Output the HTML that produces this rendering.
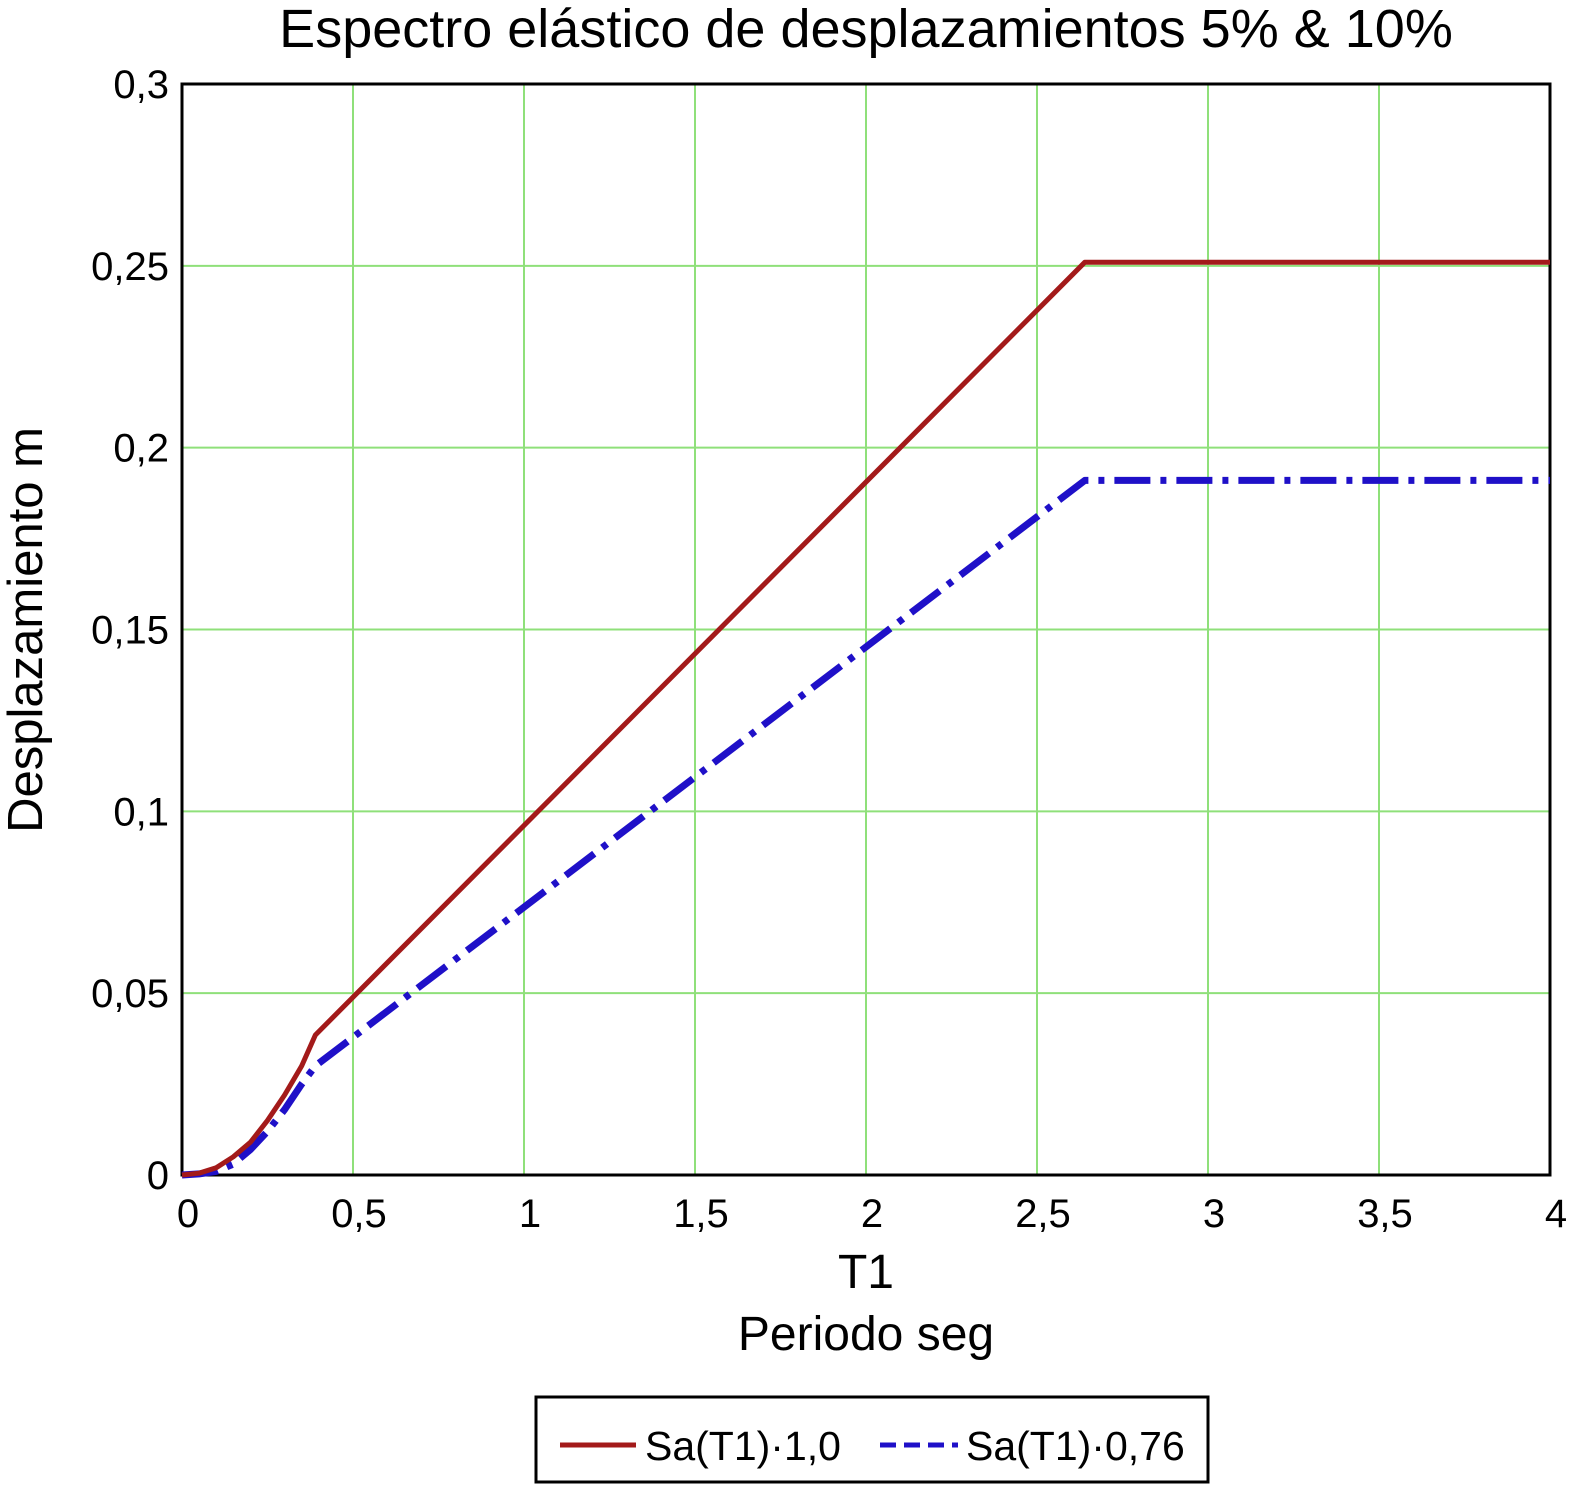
<!DOCTYPE html>
<html><head><meta charset="utf-8"><style>
body{margin:0;background:#fff;width:1587px;height:1503px;overflow:hidden}
svg text{font-family:"Liberation Sans",Arial,sans-serif;fill:#000}
</style></head><body>
<svg id="chart" width="1587" height="1503">
<text x="866" y="47" font-size="54" text-anchor="middle">Espectro elástico de desplazamientos 5% &amp; 10%</text>
<g id="grid"></g>
<g id="ticks"></g>
<rect x="182" y="84" width="1368" height="1091" fill="none" stroke="#000" stroke-width="3"/>
<g id="series"></g>
<text x="866" y="1288" font-size="48" text-anchor="middle">T1</text>
<text x="866" y="1350" font-size="48" text-anchor="middle">Periodo seg</text>
<text transform="translate(42,630) rotate(-90)" font-size="49" text-anchor="middle">Desplazamiento m</text>
<g>
<rect x="536" y="1397" width="672" height="85" fill="#fff" stroke="#000" stroke-width="3"/>
<line x1="560" y1="1445" x2="636" y2="1445" stroke="#a31a1a" stroke-width="5"/>
<text x="645" y="1460" font-size="41">Sa(T1)·1,0</text>
<line x1="880" y1="1445" x2="958" y2="1445" stroke="#1f10c8" stroke-width="5" stroke-dasharray="16,8"/>
<text x="966" y="1460" font-size="41">Sa(T1)·0,76</text>
</g>
</svg>
<script>
const xTicks=[0,0.5,1,1.5,2,2.5,3,3.5,4];
const xTickLabels=["0","0,5","1","1,5","2","2,5","3","3,5","4"];
const yTicks=[0,0.05,0.1,0.15,0.2,0.25,0.3];
const yTickLabels=["0","0,05","0,1","0,15","0,2","0,25","0,3"];
const periods=[0,0.05,0.1,0.15,0.2,0.25,0.3,0.35,0.39,2.64,4];
const sa10=[0,0.0005,0.002,0.005,0.009,0.015,0.022,0.030,0.0385,0.251,0.251];
const sa076=[0,0.0003,0.001,0.003,0.007,0.012,0.018,0.025,0.030,0.191,0.191];
const NS="http://www.w3.org/2000/svg";
const X=v=>182+v/4*1368, Y=v=>1175-v/0.3*1091;
const grid=document.getElementById('grid'),ticks=document.getElementById('ticks'),series=document.getElementById('series');
function mk(t,a,p){const e=document.createElementNS(NS,t);for(const k in a)e.setAttribute(k,a[k]);p.appendChild(e);return e;}
xTicks.forEach((v,i)=>{
 const l=mk('line',{x1:X(v),x2:X(v),y1:84,y2:1175,stroke:'#8fe07a','stroke-width':2},grid);
 
 
 const t=mk('text',{x:Math.min(X(v)+6,1556),y:1227,'font-size':40,'text-anchor':'middle'},ticks);
 t.textContent=xTickLabels[i];
 
 
});
yTicks.forEach((v,i)=>{
 const l=mk('line',{x1:182,x2:1550,y1:Y(v),y2:Y(v),stroke:'#8fe07a','stroke-width':2},grid);
 
 
 const t=mk('text',{x:169,y:Y(v)+14,'font-size':40,'text-anchor':'end'},ticks);
 t.textContent=yTickLabels[i];
 
 
});
function pts(vals){return periods.map((p,i)=>X(p)+','+Y(vals[i])).join(' ');}
const s2=mk('polyline',{points:pts(sa076),fill:'none',stroke:'#1f10c8','stroke-width':7,'stroke-dasharray':'36,10,6,10','stroke-linejoin':'round'},series);


const s1=mk('polyline',{points:pts(sa10),fill:'none',stroke:'#a31a1a','stroke-width':5,'stroke-linejoin':'round'},series);


</script>
</body></html>
